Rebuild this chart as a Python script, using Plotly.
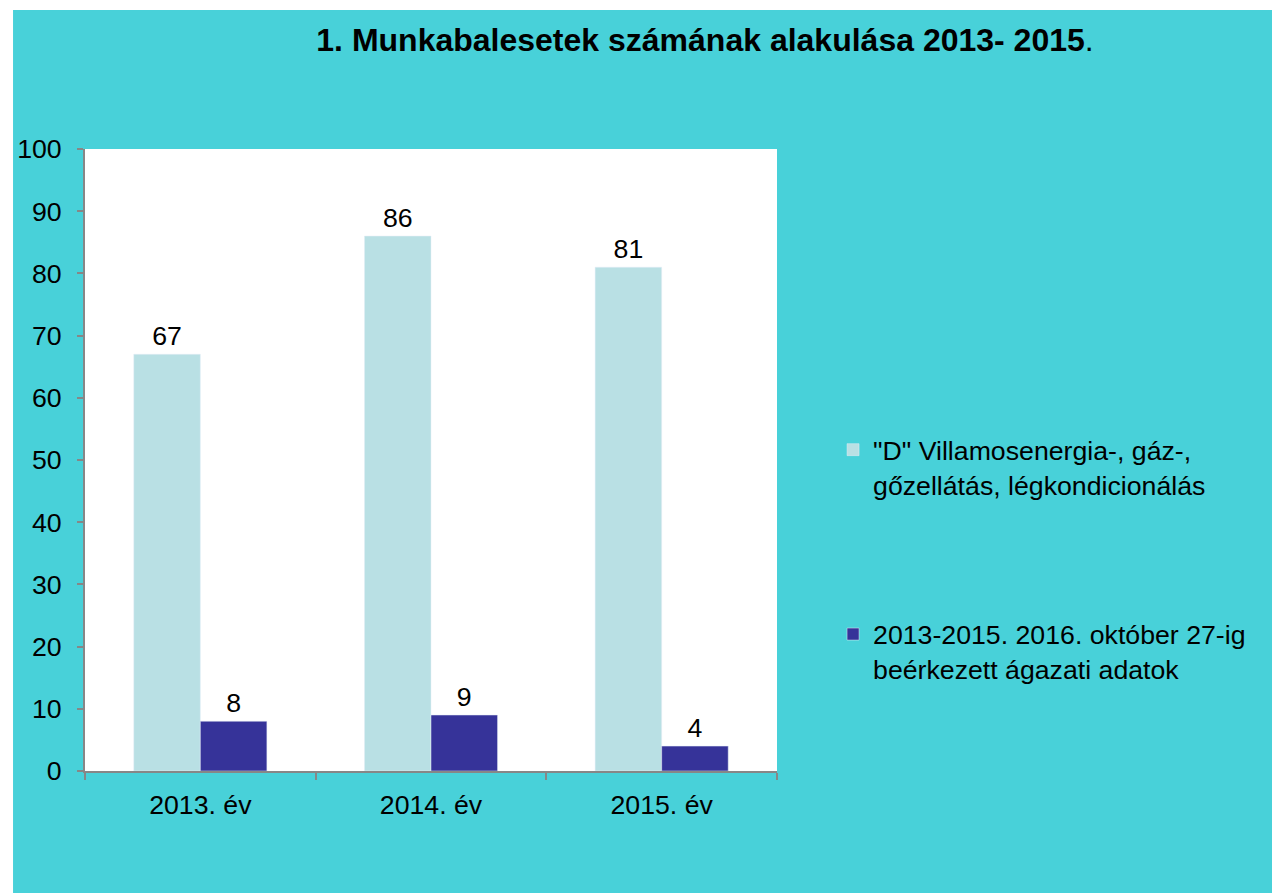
import plotly.graph_objects as go

categories = ["2013. év", "2014. év", "2015. év"]
series_d = [67, 86, 81]
series_agazati = [8, 9, 4]
name_d = "\"D\" Villamosenergia-, gáz-,<br>gőzellátás, légkondicionálás"
name_agazati = "2013-2015. 2016. október 27-ig<br>beérkezett ágazati adatok"

font_family = "Liberation Sans, Arial, sans-serif"
teal = "#48D1D9"
fs = 26.7  # 20pt
W, H = 1272, 885  # page body has an 8px margin

fig = go.Figure()
fig.add_trace(go.Bar(x=categories, y=series_d, name=name_d, marker_color="#B9E0E4",
                     text=series_d, textposition="outside", legendgroup="a",
                     textfont=dict(size=fs, color="black"), cliponaxis=False))
fig.add_trace(go.Bar(x=categories, y=series_agazati, name=name_agazati, marker_color="#363399",
                     text=series_agazati, textposition="outside", legendgroup="b",
                     textfont=dict(size=fs, color="black"), cliponaxis=False))

# teal frame behind everything, white plot area on top of it
fig.add_shape(type="rect", xref="paper", yref="paper", x0=-0.104, x1=1.75, y0=-0.25, y1=1.2235,
              fillcolor=teal, line_width=0, layer="below")
fig.add_shape(type="rect", xref="paper", yref="paper", x0=0, x1=1, y0=0, y1=1,
              fillcolor="white", line_width=0, layer="below")

fig.update_layout(
    width=W, height=H,
    margin=dict(l=77, r=503, t=141, b=122),
    paper_bgcolor="white", plot_bgcolor="white",
    font=dict(family=font_family, size=fs, color="black"),
    barmode="group", bargap=0.423, bargroupgap=0,
    title=dict(text="<b>1. Munkabalesetek számának alakulása 2013- 2015</b>.",
               x=697 / W, xanchor="center", y=1 - 32 / H, yanchor="middle",
               font=dict(size=32, color="black")),
    legend=dict(x=1.081, xanchor="left", y=0.555, yanchor="top", valign="top",
                tracegroupgap=112, font=dict(size=fs), bgcolor="rgba(0,0,0,0)",
                traceorder="grouped", itemwidth=30),
    showlegend=True,
)
fig.update_yaxes(range=[0, 100], dtick=10, showgrid=False, showline=True, linecolor="#878787",
                 linewidth=2, ticks="outside", ticklen=6, tickcolor="#878787", tickwidth=2,
                 zeroline=False, tickfont=dict(size=fs), ticklabelstandoff=10, automargin=False)
fig.update_xaxes(showgrid=False, showline=True, linecolor="#878787", linewidth=2,
                 ticks="outside", ticklen=7, tickcolor="#878787", tickwidth=2,
                 tickson="boundaries", tickfont=dict(size=fs), ticklabelstandoff=9,
                 automargin=False)

fig.write_html("out.html")
